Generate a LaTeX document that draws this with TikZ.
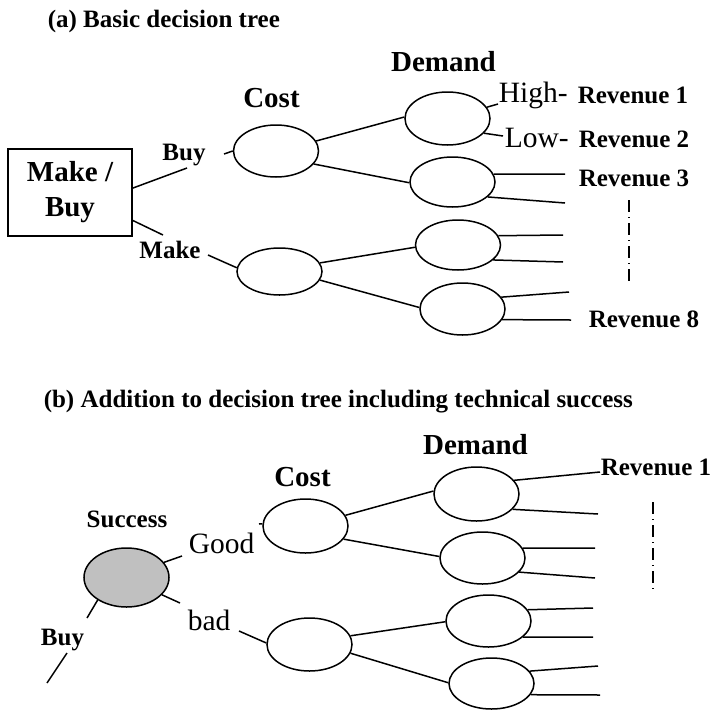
\documentclass[tikz,border=0pt]{standalone}
\usepackage{fontspec}
\setmainfont{Liberation Serif}
\usetikzlibrary{shapes.geometric}
\begin{document}
\begin{tikzpicture}[x=1pt,y=-1pt, line width=1.5pt,
  every node/.style={inner sep=0pt},
  lblsmall/.style={font=\fontsize{25}{28}\selectfont\bfseries},
  lblbig/.style={font=\fontsize{29}{35}\selectfont\bfseries},
  regtext/.style={font=\fontsize{29.5}{33}\selectfont},
  chance/.style={draw, ellipse, minimum width=85pt, minimum height=#1},
  chance/.default=52pt,
  dashdot/.style={line width=1.2pt, dash pattern=on 12pt off 5pt on 1pt off 5pt}]
\useasboundingbox (0,0) rectangle (712,710);

% ---------------- (a) basic tree ----------------
\node[lblsmall, anchor=base west] (ta) at (47,27) {(a) Basic decision tree};

\node[draw, minimum width=124pt, minimum height=87pt, align=center, lblbig] (box) at (70,192.5) {Make /\\Buy};

\node[lblbig, anchor=base] (costa) at (271.5,107) {Cost};
\node[lblbig, anchor=base] (demanda) at (443.5,71) {Demand};

\node[chance=52pt] (c1) at (276,151) {};
\node[chance=47pt] (c2) at (279.5,271.5) {};
\node[chance=53pt] (d1) at (447.5,118.5) {};
\node[chance=50pt] (d2) at (452.5,182) {};
\node[chance=50pt] (d3) at (458,245) {};
\node[chance=52pt] (d4) at (462.5,309) {};

% Buy / Make branches
\node[lblsmall, anchor=base] (buya) at (184,160) {Buy};
\node[lblsmall, anchor=base] (makea) at (170,258) {Make};
\coordinate (buy1) at (187,168);
\coordinate (buy2) at (224,154);
\coordinate (make1) at (163,235);
\coordinate (make2) at (208,255);
\draw (box.4) -- (buy1);
\draw (buy2) -- (c1.180);
\draw (box.-24) -- (make1);
\draw (make2) -- (c2.175);

% cost -> demand
\draw (c1.14) -- (d1.178);
\draw (c1.-19) -- (d2.-179);
\draw (c2.12.5) -- (d3.183);
\draw (c2.-12) -- (d4.178.6);

% demand outcomes
\node[regtext, anchor=base west] (high) at (498,102) {High-};
\node[regtext, anchor=base west] (low) at (504,147) {Low-};
\draw (d1.16.6) -- (high.west |- 0,104);
\draw (d1.-22) -- (503,136);
\coordinate (o3) at (565,174);
\coordinate (o4) at (565,203);
\coordinate (o5) at (563,235);
\coordinate (o6) at (563,262);
\coordinate (o7) at (569,292);
\coordinate (o8) at (571,320);
\draw (d2.11) -- (o3);
\draw (d2.-23) -- (o4);
\draw (d3.13.4) -- (o5);
\draw (d3.-23.5) -- (o6);
\draw (d4.17) -- (o7);
\draw (d4.-15) -- (o8);

\node[lblsmall, anchor=base west] (r1) at (577,103) {Revenue 1};
\node[lblsmall, anchor=base west] (r2) at (578,147) {Revenue 2};
\node[lblsmall, anchor=base west] (r3) at (578,186) {Revenue 3};
\node[lblsmall, anchor=base west] (r8) at (588,327) {Revenue 8};
\draw[dashdot] (629,200) -- (629,282);

% ---------------- (b) technical success ----------------
\node[lblsmall, anchor=base west] (tb) at (43,407) {(b) Addition to decision tree including technical success};

\node[lblsmall, anchor=base] (succ) at (127,527) {Success};
\node[draw, ellipse, fill={rgb,255:red,192;green,192;blue,192}, minimum width=85pt, minimum height=59pt] (s) at (126.5,577.5) {};

\node[regtext, anchor=base west] (good) at (188,553) {Good};
\node[regtext, anchor=base west] (bad) at (187,630) {bad};
\node[lblsmall, anchor=base] (buyb) at (62.5,645) {Buy};

\node[lblbig, anchor=base] (costb) at (302.5,486) {Cost};
\node[lblbig, anchor=base] (demandb) at (475.5,454) {Demand};

\node[chance=54pt] (cg) at (305.5,526) {};
\node[chance=53pt] (cb) at (309.5,644.5) {};
\node[chance=54pt] (e1) at (476.5,494) {};
\node[chance=52pt] (e2) at (482.5,558) {};
\node[chance=52pt] (e3) at (488.5,621) {};
\node[chance=51pt] (e4) at (491.5,683.5) {};

\coordinate (g1) at (182,556);
\coordinate (b1) at (180,603);
\coordinate (u1) at (87,618);
\coordinate (u2) at (67,653);
\coordinate (u3) at (47,683);
\coordinate (gt) at (259,524);
\coordinate (bt) at (239,631);
\draw (s.22) -- (g1);
\draw (s.-26) -- (b1);
\draw (s.218) -- (u1);
\draw (u2) -- (u3);
\draw (gt) -- (cg.177);
\draw (bt) -- (cb.178);

\draw (cg.15) -- (e1.176);
\draw (cg.-19.5) -- (e2.178.6);
\draw (cb.12.5) -- (e3.181);
\draw (cb.-12) -- (e4.179);

\node[lblsmall, anchor=base west] (rb1) at (600,475) {Revenue 1};
\coordinate (p1) at (598,514);
\coordinate (p2) at (595,548);
\coordinate (p3) at (595,578);
\coordinate (p4) at (593,608);
\coordinate (p5) at (593,637);
\coordinate (p6) at (598,666);
\coordinate (p7) at (600,695);
\draw (e1.20) -- (rb1.west |- 0,472);
\draw (e1.-23) -- (p1);
\draw (e2.14) -- (p2);
\draw (e2.-21) -- (p3);
\draw (e3.16) -- (p4);
\draw (e3.-25) -- (p5);
\draw (e4.18) -- (p6);
\draw (e4.-16.6) -- (p7);
\draw[dashdot] (653,502) -- (653,590);
\end{tikzpicture}
\end{document}
